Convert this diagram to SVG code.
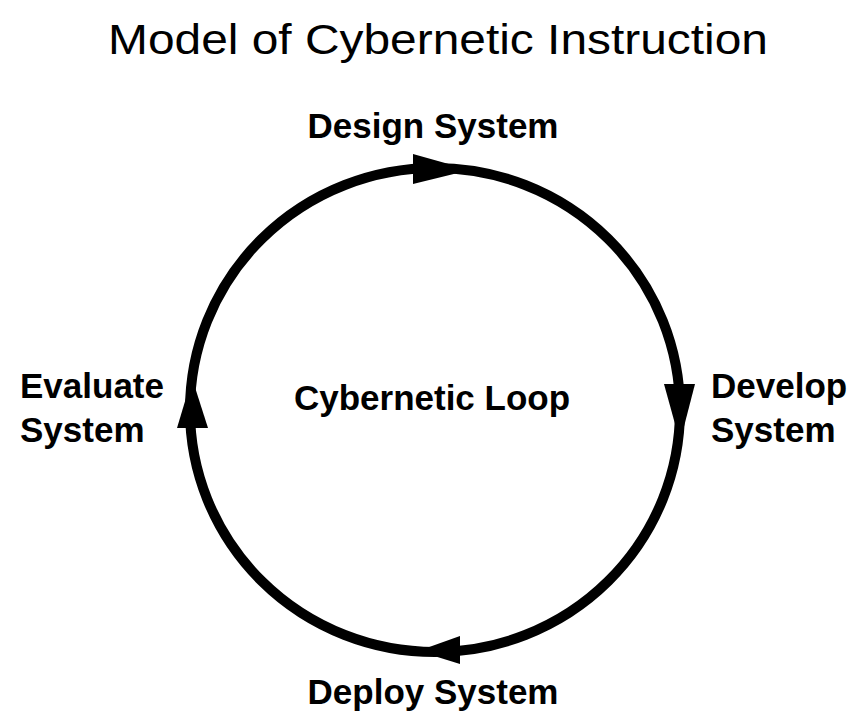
<svg xmlns="http://www.w3.org/2000/svg" width="858" height="713" viewBox="0 0 858 713">
<style>
.title{font-family:"Liberation Sans",Arial,sans-serif;font-size:43px;fill:#000}
.lbl{font-family:"Liberation Sans",Arial,sans-serif;font-size:35px;font-weight:bold;fill:#000}
.head{fill:#000}
</style>
<rect width="858" height="713" fill="#fff"/>
<text class="title" x="108" y="54" textLength="660" lengthAdjust="spacingAndGlyphs">Model of Cybernetic Instruction</text>
<g id="connectors">
<ellipse cx="435" cy="410" rx="245" ry="242" fill="none" stroke="#000" stroke-width="10"/>
<polygon class="head" points="413,154 413,184 470,170"/>
<polygon class="head" points="664,384 695,384 680,442"/>
<polygon class="head" points="460,636 460,664 418,651"/>
<polygon class="head" points="177,428 208,428 192,378"/>
</g>
<g id="design"><text class="lbl" x="433" y="138" text-anchor="middle">Design System</text></g>
<g id="develop"><text class="lbl" x="711" y="398">Develop</text><text class="lbl" x="711" y="442">System</text></g>
<g id="deploy"><text class="lbl" x="433" y="704" text-anchor="middle">Deploy System</text></g>
<g id="evaluate"><text class="lbl" x="20" y="398">Evaluate</text><text class="lbl" x="20" y="442">System</text></g>
<g id="loop"><text class="lbl" x="432" y="410" text-anchor="middle">Cybernetic Loop</text></g>
</svg>
